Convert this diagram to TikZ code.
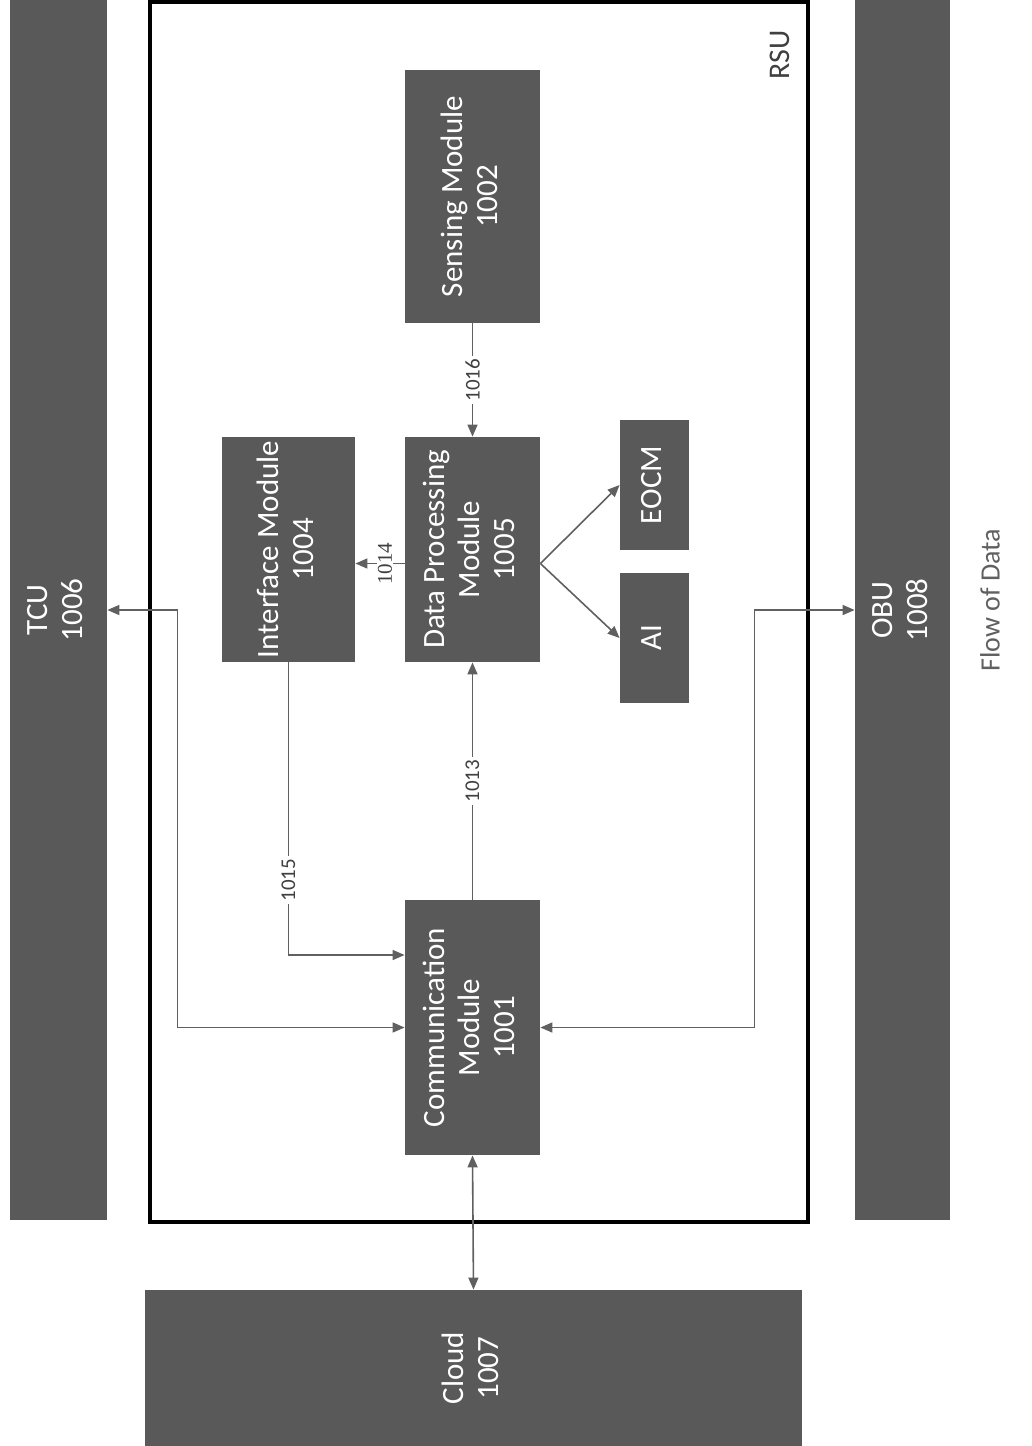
\documentclass[tikz,border=0pt]{standalone}
\usepackage{fontspec}
\setmainfont{Carlito}
\newfontfamily\serifnum{Liberation Serif}
\usetikzlibrary{arrows.meta,calc}
\definecolor{boxgray}{HTML}{595959}
\definecolor{linegray}{HTML}{606060}
\definecolor{txtgray}{HTML}{404040}
\newcommand{\rtx}[1]{\rotatebox{90}{\begin{tabular}{@{}c@{}}#1\end{tabular}}}
\begin{document}
\begin{tikzpicture}[x=0.5pt,y=-0.5pt,
  blk/.style={fill=boxgray, draw=none, text=white, inner sep=0pt,
    font=\fontsize{15.5}{17.5}\selectfont},
  conn/.style={draw=linegray, line width=0.8pt,
    >={Triangle[length=6pt,width=5pt]}},
  lbl/.style={fill=white, rotate=90, inner sep=1.5pt, text=txtgray,
    font=\fontsize{10.5}{12}\selectfont},
  note/.style={rotate=90, text=txtgray}]
\useasboundingbox (0,0) rectangle (1032,1446);
% outer bars
\node[blk, minimum width=48.5pt, minimum height=610pt] (tcu) at (58.5,610) {\rtx{TCU\\1006}};
\node[blk, minimum width=47.5pt, minimum height=610pt] (obu) at (902.5,610) {\rtx{OBU\\1008}};
\node[blk, minimum width=328.5pt, minimum height=78pt] (cloud) at (473.5,1368) {\rtx{Cloud\\1007}};
% RSU container
\node[draw=black, line width=2pt, minimum width=329pt, minimum height=610pt, inner sep=0pt] (rsu) at (479,612) {};
\node[note, font=\fontsize{15}{17.5}\selectfont] (rsulbl) at (780,55) {RSU};
% modules
\node[blk, minimum width=67.5pt, minimum height=126.5pt] (sens) at (472.5,196.5) {\rtx{Sensing Module\\1002}};
\node[blk, minimum width=66.5pt, minimum height=112.5pt] (iface) at (288.5,549.5) {\rtx{Interface Module\\1004}};
\node[blk, minimum width=67.5pt, minimum height=112.5pt] (data) at (472.5,549.5) {\rtx{Data Processing\\Module\\1005}};
\node[blk, minimum width=34.5pt, minimum height=65pt] (eocm) at (654.5,485) {\rtx{EOCM}};
\node[blk, minimum width=34.5pt, minimum height=65pt] (ai) at (654.5,638) {\rtx{AI}};
\node[blk, minimum width=67.5pt, minimum height=127.5pt] (comm) at (472.5,1027.5) {\rtx{Communication\\Module\\1001}};
% legend
\node[note, text=linegray, font=\fontsize{14}{16}\selectfont] (flow) at (990,600) {Flow of Data};
% connectors
\draw[conn,->] (sens.south) -- node[lbl]{1016} (data.north);
\draw[conn,->] (comm.north) -- node[lbl]{1013} (data.south);
\draw[conn,->] ([yshift=-7pt]data.west) -- node[lbl, pos=0.4, inner sep=0.5pt, font=\serifnum\fontsize{10.5}{12}\selectfont]{1014} ([yshift=-7pt]iface.east);
\draw[conn,->] (iface.south) |- node[lbl, pos=0.372]{1015} ([yshift=36.25pt]comm.west);
\draw[conn,<->] (tcu.east) -- ++(70,0) |- (comm.west);
\draw[conn,<->] (obu.west) -- ++(-100,0) |- (comm.east);
\draw[conn,<->] (comm.south) -- (cloud.north);
\draw[conn,->] ([yshift=-7pt]data.east) -- (eocm.west);
\draw[conn,->] ([yshift=-7pt]data.east) -- (ai.west);
\end{tikzpicture}
\end{document}
